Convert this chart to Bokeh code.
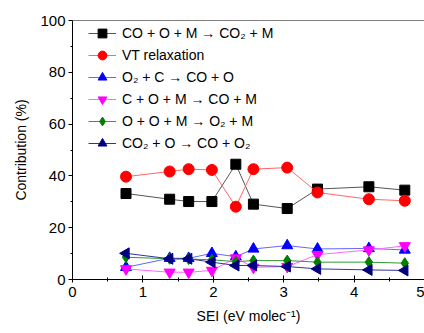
import math
from bokeh.plotting import figure
from bokeh.models import Range1d, Legend, LegendItem, Span, FixedTicker
from bokeh.embed import file_html
from bokeh.resources import INLINE

sei = [0.76, 1.38, 1.65, 1.98, 2.32, 2.57, 3.05, 3.48, 4.21, 4.72]
co_o_m = [33.2, 31.0, 30.1, 30.1, 44.5, 29.1, 27.4, 34.9, 35.8, 34.5]
vt_relax = [39.7, 41.7, 42.6, 42.3, 28.1, 42.6, 43.2, 33.6, 31.0, 30.4]
o2_c = [4.7, 8.2, 8.2, 10.1, 8.8, 11.8, 13.1, 11.8, 12.0, 11.4]
c_o_m = [4.1, 2.8, 2.8, 3.5, 8.3, 4.7, 5.0, 9.6, 11.4, 13.0]
o_o_m = [8.6, 8.0, 7.9, 7.6, 6.9, 7.3, 7.3, 6.7, 6.7, 6.3]
co2_o = [10.1, 8.0, 8.0, 6.7, 5.4, 5.4, 5.0, 4.1, 3.7, 3.5]

labels = ["CO + O + M \u2192 CO\u2082 + M", "VT relaxation", "O\u2082 + C \u2192 CO + O",
          "C + O + M \u2192 CO + M", "O + O + M \u2192 O\u2082 + M", "CO\u2082 + O \u2192 CO + O\u2082"]
series = [co_o_m, vt_relax, o2_c, c_o_m, o_o_m, co2_o]
colors = ["#000000", "#ff0000", "#0000ff", "#ff00ff", "#008000", "#000080"]
line_colors = ["#555555", "#ff6666", "#6666ff", "#ff66ff", "#339933", "#333399"]
markers = ["square", "circle", "triangle", "inverted_triangle", "diamond", "triangle"]
angles = [0, 0, 0, 0, 0, math.pi / 2]
sizes = [10, 11, 11, 11, 11, 11]

FONT = "Liberation Sans"

p = figure(width=424, height=333, output_backend="svg", toolbar_location=None,
           x_range=Range1d(0, 5), y_range=Range1d(0, 100),
           min_border_left=72, min_border_right=0, min_border_top=20, min_border_bottom=54)
p.outline_line_color = None
p.grid.grid_line_color = None
p.background_fill_color = "white"
p.border_fill_color = "white"

items = []
for ys, lab, c, lc, m, a, s in zip(series, labels, colors, line_colors, markers, angles, sizes):
    l = p.line(sei, ys, line_color=lc, line_width=1)
    r = p.scatter(sei, ys, marker=m, size=s, fill_color=c, line_color=c, angle=a)
    items.append(LegendItem(label=lab, renderers=[l, r]))

p.add_layout(Span(location=100, dimension="width", line_color="black", line_width=1))

legend = Legend(items=items, location=(16, 125), border_line_color=None,
                background_fill_alpha=0, padding=0, margin=0, spacing=0,
                glyph_width=28, glyph_height=22, label_height=22, label_standoff=6,
                label_text_font=FONT, label_text_font_size="14px", label_text_color="black")
p.add_layout(legend)

p.xaxis.ticker = FixedTicker(ticks=[0, 1, 2, 3, 4, 5], minor_ticks=[0.5, 1.5, 2.5, 3.5, 4.5])
p.yaxis.ticker = FixedTicker(ticks=[0, 20, 40, 60, 80, 100], minor_ticks=[10, 30, 50, 70, 90])

for ax in (p.xaxis, p.yaxis):
    ax.axis_line_color = "black"
    ax.major_tick_line_color = "black"
    ax.minor_tick_line_color = "black"
    ax.major_label_text_font = FONT
    ax.major_label_text_font_size = "15px"
    ax.major_label_text_color = "black"
    ax.axis_label_text_font = FONT
    ax.axis_label_text_font_size = "14px"
    ax.axis_label_text_font_style = "normal"
    ax.axis_label_text_color = "black"

p.xaxis.major_tick_in = 4
p.xaxis.major_tick_out = 3
p.xaxis.minor_tick_in = 2
p.xaxis.minor_tick_out = 2
p.xaxis.major_label_standoff = 4
p.xaxis.axis_label = "SEI (eV molec\u207b\u00b9)"
p.xaxis.axis_label_standoff = 8

p.yaxis.major_tick_in = 0
p.yaxis.major_tick_out = 4
p.yaxis.minor_tick_in = 0
p.yaxis.minor_tick_out = 2
p.yaxis.major_label_standoff = 3
p.yaxis.axis_label = "Contribution (%)"
p.yaxis.axis_label_standoff = 8

open("out.html", "w").write(file_html(p, INLINE))
